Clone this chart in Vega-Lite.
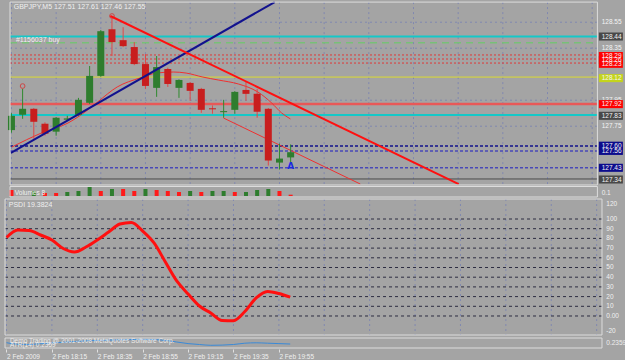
{
  "$schema": "https://vega.github.io/schema/vega-lite/v6.json",
  "background": "#a4a4a4",
  "padding": 0,
  "spacing": 0,
  "bounds": "flush",
  "config": {
    "view": {"stroke": null},
    "text": {"font": "Liberation Sans", "fontSize": 6.5, "color": "#f0f0f0"}
  },
  "datasets": {
    "candles": [
      {"i":0,"o":127.72,"h":127.85,"l":127.70,"c":127.83},
      {"i":1,"o":127.838,"h":128.037,"l":127.807,"c":127.884},
      {"i":2,"o":127.884,"h":127.89,"l":127.654,"c":127.784},
      {"i":3,"o":127.769,"h":127.78,"l":127.677,"c":127.692},
      {"i":4,"o":127.708,"h":127.82,"l":127.677,"c":127.815},
      {"i":5,"o":127.80,"h":127.83,"l":127.79,"c":127.81},
      {"i":6,"o":127.838,"h":127.968,"l":127.83,"c":127.953},
      {"i":7,"o":127.93,"h":128.213,"l":127.92,"c":128.137},
      {"i":8,"o":128.137,"h":128.49,"l":128.13,"c":128.481},
      {"i":9,"o":128.496,"h":128.575,"l":128.29,"c":128.397},
      {"i":10,"o":128.412,"h":128.512,"l":128.359,"c":128.366},
      {"i":11,"o":128.359,"h":128.397,"l":128.22,"c":128.228},
      {"i":12,"o":128.228,"h":128.305,"l":128.037,"c":128.06},
      {"i":13,"o":128.045,"h":128.29,"l":127.976,"c":128.205},
      {"i":14,"o":128.19,"h":128.2,"l":128.052,"c":128.075},
      {"i":15,"o":128.045,"h":128.11,"l":127.968,"c":128.106},
      {"i":16,"o":128.083,"h":128.09,"l":127.945,"c":128.022},
      {"i":17,"o":128.037,"h":128.045,"l":127.853,"c":127.876},
      {"i":18,"o":127.888,"h":127.91,"l":127.846,"c":127.88},
      {"i":19,"o":127.858,"h":127.953,"l":127.815,"c":127.866},
      {"i":20,"o":127.876,"h":128.02,"l":127.846,"c":128.014},
      {"i":21,"o":128.029,"h":128.098,"l":127.945,"c":127.999},
      {"i":22,"o":127.999,"h":128.037,"l":127.815,"c":127.861},
      {"i":23,"o":127.884,"h":127.89,"l":127.447,"c":127.486},
      {"i":24,"o":127.47,"h":127.616,"l":127.417,"c":127.501},
      {"i":25,"o":127.51,"h":127.61,"l":127.46,"c":127.55}
    ],
    "ma": [
      {"i":0.04,"p":127.59},{"i":2.69,"p":127.698},{"i":5.07,"p":127.775},{"i":6.83,"p":127.875},
      {"i":7.71,"p":127.936},{"i":9.47,"p":128.052},{"i":11.5,"p":128.121},{"i":13.0,"p":128.159},
      {"i":14.5,"p":128.167},{"i":15.64,"p":128.159},{"i":17.14,"p":128.128},{"i":18.55,"p":128.105},
      {"i":20.31,"p":128.075},{"i":22.07,"p":128.013},{"i":23.31,"p":127.928},{"i":24.19,"p":127.852},
      {"i":24.98,"p":127.806}
    ],
    "levels": [
      {"p":128.44,"kind":"cyan"},{"p":127.836,"kind":"cyan"},
      {"p":128.392,"kind":"order"},
      {"p":128.298,"kind":"reddot"},{"p":128.267,"kind":"reddot"},{"p":128.236,"kind":"reddot"},
      {"p":128.128,"kind":"yellow"},
      {"p":127.921,"kind":"red"},
      {"p":127.598,"kind":"navy"},
      {"p":127.559,"kind":"blue"},{"p":127.431,"kind":"blue"},
      {"p":127.344,"kind":"gray"}
    ],
    "trends": [
      {"name":"blue","i1":-0.044,"p1":127.544,"i2":23.57,"p2":128.705},
      {"name":"red","i1":8.855,"p1":128.598,"i2":40.05,"p2":127.305},
      {"name":"thin","i1":18.99,"p1":127.813,"i2":31.24,"p2":127.305}
    ],
    "marks": [
      {"i":1,"p":128.059},{"i":9,"p":128.598}
    ],
    "vgrid": [
      {"i":0},{"i":4},{"i":8},{"i":12},{"i":16},{"i":20},{"i":24},{"i":28},
      {"i":32},{"i":36},{"i":40},{"i":44},{"i":48},{"i":52}
    ],
    "pgrid": [{"p":128.55},{"p":128.35},{"p":127.95},{"p":127.75}],
    "plabels": [
      {"p":128.55,"t":"128.55","kind":"plain"},
      {"p":128.35,"t":"128.35","kind":"plain"},
      {"p":127.95,"t":"127.95","kind":"plain"},
      {"p":127.75,"t":"127.75","kind":"plain"},
      {"p":128.44,"t":"128.44","kind":"gray"},
      {"p":128.29,"t":"128.29","kind":"red"},
      {"p":128.23,"t":"128.23","kind":"red"},
      {"p":128.26,"t":"128.26","kind":"red"},
      {"p":128.12,"t":"128.12","kind":"yellow"},
      {"p":127.92,"t":"127.92","kind":"red"},
      {"p":127.83,"t":"127.83","kind":"gray"},
      {"p":127.60,"t":"127.60","kind":"navy"},
      {"p":127.56,"t":"127.56","kind":"navy"},
      {"p":127.43,"t":"127.43","kind":"navy"},
      {"p":127.34,"t":"127.34","kind":"gray"}
    ],
    "volume": [
      {"i":0,"v":6,"dir":"down"},{"i":2,"v":5,"dir":"up"},{"i":3,"v":3,"dir":"down"},
      {"i":4,"v":3,"dir":"down"},{"i":5,"v":4,"dir":"up"},{"i":6,"v":5,"dir":"up"},
      {"i":7,"v":9,"dir":"up"},{"i":8,"v":5,"dir":"down"},{"i":9,"v":7,"dir":"up"},
      {"i":10,"v":7,"dir":"down"},{"i":11,"v":5,"dir":"down"},{"i":12,"v":7,"dir":"up"},
      {"i":13,"v":6,"dir":"down"},{"i":14,"v":5,"dir":"down"},{"i":15,"v":4,"dir":"down"},
      {"i":16,"v":5,"dir":"up"},{"i":17,"v":4,"dir":"down"},{"i":18,"v":5,"dir":"up"},
      {"i":19,"v":5,"dir":"up"},{"i":20,"v":4,"dir":"down"},{"i":21,"v":4,"dir":"up"},
      {"i":22,"v":6,"dir":"up"},{"i":23,"v":7,"dir":"up"},{"i":24,"v":5,"dir":"down"},
      {"i":25,"v":1.3,"dir":"down"}
    ],
    "rsi": [
      {"i":0,"v":80.9},{"i":1,"v":88.7},{"i":2,"v":88.1},{"i":3,"v":83.5},{"i":4,"v":78.4},
      {"i":5,"v":69.6},{"i":6,"v":66.0},{"i":7,"v":71.1},{"i":8,"v":78.4},{"i":9,"v":86.6},
      {"i":10,"v":94.8},{"i":11,"v":96.4},{"i":12,"v":87.6},{"i":13,"v":75.3},{"i":14,"v":55.7},
      {"i":15,"v":36.1},{"i":16,"v":22.7},{"i":17,"v":10.3},{"i":18,"v":3.1},{"i":19,"v":-4.6},
      {"i":20,"v":-4.8},{"i":21,"v":4.6},{"i":22,"v":18.6},{"i":23,"v":25.3},{"i":24,"v":23.2},
      {"i":25,"v":19.4}
    ],
    "rgrid": [{"v":0},{"v":10},{"v":20},{"v":30},{"v":40},{"v":50},{"v":60},{"v":70},{"v":80},{"v":90},{"v":100}],
    "rlabels": [
      {"v":115.5,"t":"120"},{"v":100,"t":"100"},{"v":90,"t":"90"},{"v":80,"t":"80"},{"v":70,"t":"70"},
      {"v":60,"t":"60"},{"v":50,"t":"50"},{"v":40,"t":"40"},{"v":30,"t":"30"},{"v":20,"t":"20"},
      {"v":10,"t":"10"},{"v":0,"t":"0.00"},{"v":-15.5,"t":"-20"}
    ],
    "atr": [
      {"i":0,"v":6.3},{"i":1,"v":4.7},{"i":2,"v":4.5},{"i":3,"v":5.3},{"i":4,"v":6.2},{"i":5,"v":6.7},
      {"i":6,"v":7.5},{"i":7,"v":8.2},{"i":8,"v":8.5},{"i":9,"v":8.9},{"i":10,"v":9.2},{"i":11,"v":9.4},
      {"i":12,"v":9.7},{"i":13,"v":9.4},{"i":14,"v":8.6},{"i":15,"v":7.0},{"i":16,"v":5.4},{"i":17,"v":4.5},
      {"i":18,"v":3.7},{"i":19,"v":3.9},{"i":20,"v":4.5},{"i":21,"v":5.8},{"i":22,"v":6.2},{"i":23,"v":5.8},
      {"i":24,"v":5.4},{"i":25,"v":5.0}
    ],
    "texts": [
      {"panel":"main","t":"GBPJPY,M5  127.51 127.61 127.46 127.55","i":0.2,"v":128.667},
      {"panel":"main","t":"#1156037 buy","i":0.4,"v":128.415},
      {"panel":"vol","t":"Volumes 8","i":0.3,"v":3.5},
      {"panel":"vol","t":"0.1","i":52.85,"v":3.5},
      {"panel":"rsi","t":"PSDI 19.3824","i":0.2,"v":114.4},
      {"panel":"atr","t":"Demo Trading @ 2001-2008 MetaQuotes Software Corp.","i":0.3,"v":8},
      {"panel":"atr","t":"ATR(14) 0.2359","i":0.3,"v":4.5},
      {"panel":"atr","t":"0.2359","i":52.85,"v":6}
    ],
    "frames": [
      {"panel":"main","i1":-0.13,"i2":52.47,"v1":128.705,"v2":127.298},
      {"panel":"vol","i1":-0.13,"i2":52.47,"v1":9.5,"v2":-1},
      {"panel":"rsi","i1":-0.13,"i2":52.47,"v1":120.6,"v2":-19.6},
      {"panel":"atr","i1":-0.13,"i2":52.47,"v1":11,"v2":1}
    ]
  },
  "vconcat": [
    {
      "width": 625,
      "height": 186,
      "resolve": {"scale": {"fill": "independent", "color": "independent"}},
      "layer": [
        {
          "data": {"name": "vgrid"},
          "transform": [{"calculate": "128.705", "as": "y0"}, {"calculate": "127.298", "as": "y1"}],
          "mark": {"type": "rule", "stroke": "#8088b0", "strokeDash": [2, 3], "strokeWidth": 1},
          "encoding": {
            "x": {"field": "i", "type": "quantitative", "scale": {"domain": [-0.22, 54.85], "nice": false, "zero": false}, "axis": null},
            "y": {"field": "y0", "type": "quantitative", "scale": {"domain": [127.29, 128.721], "nice": false, "zero": false}, "axis": null},
            "y2": {"field": "y1"}
          }
        },
        {
          "data": {"name": "pgrid"},
          "transform": [{"calculate": "-0.13", "as": "x0"}, {"calculate": "52.47", "as": "x1"}],
          "mark": {"type": "rule", "stroke": "#8088b0", "strokeDash": [2, 3], "strokeWidth": 1},
          "encoding": {"y": {"field": "p", "type": "quantitative"}, "x": {"field": "x0", "type": "quantitative"}, "x2": {"field": "x1"}}
        },
        {
          "data": {"name": "levels"},
          "transform": [{"filter": "datum.kind == 'cyan'"}, {"calculate": "-0.13", "as": "x0"}, {"calculate": "52.47", "as": "x1"}],
          "mark": {"type": "rule", "stroke": "#14c8c8", "strokeWidth": 2},
          "encoding": {"y": {"field": "p", "type": "quantitative"}, "x": {"field": "x0", "type": "quantitative"}, "x2": {"field": "x1"}}
        },
        {
          "data": {"name": "levels"},
          "transform": [{"filter": "datum.kind == 'order'"}, {"calculate": "-0.13", "as": "x0"}, {"calculate": "52.47", "as": "x1"}],
          "mark": {"type": "rule", "stroke": "#78c078", "strokeWidth": 1.5, "strokeDash": [7, 5]},
          "encoding": {"y": {"field": "p", "type": "quantitative"}, "x": {"field": "x0", "type": "quantitative"}, "x2": {"field": "x1"}}
        },
        {
          "data": {"name": "levels"},
          "transform": [{"filter": "datum.kind == 'reddot'"}, {"calculate": "-0.13", "as": "x0"}, {"calculate": "52.47", "as": "x1"}],
          "mark": {"type": "rule", "stroke": "#e03838", "strokeWidth": 1, "strokeDash": [2, 2]},
          "encoding": {"y": {"field": "p", "type": "quantitative"}, "x": {"field": "x0", "type": "quantitative"}, "x2": {"field": "x1"}}
        },
        {
          "data": {"name": "levels"},
          "transform": [{"filter": "datum.kind == 'yellow'"}, {"calculate": "-0.13", "as": "x0"}, {"calculate": "52.47", "as": "x1"}],
          "mark": {"type": "rule", "stroke": "#dcdc30", "strokeWidth": 1},
          "encoding": {"y": {"field": "p", "type": "quantitative"}, "x": {"field": "x0", "type": "quantitative"}, "x2": {"field": "x1"}}
        },
        {
          "data": {"name": "levels"},
          "transform": [{"filter": "datum.kind == 'red'"}, {"calculate": "-0.13", "as": "x0"}, {"calculate": "52.47", "as": "x1"}],
          "mark": {"type": "rule", "stroke": "#e85858", "strokeWidth": 2.5},
          "encoding": {"y": {"field": "p", "type": "quantitative"}, "x": {"field": "x0", "type": "quantitative"}, "x2": {"field": "x1"}}
        },
        {
          "data": {"name": "levels"},
          "transform": [{"filter": "datum.kind == 'navy'"}, {"calculate": "-0.13", "as": "x0"}, {"calculate": "52.47", "as": "x1"}],
          "mark": {"type": "rule", "stroke": "#10108c", "strokeWidth": 1.5, "strokeDash": [3, 2]},
          "encoding": {"y": {"field": "p", "type": "quantitative"}, "x": {"field": "x0", "type": "quantitative"}, "x2": {"field": "x1"}}
        },
        {
          "data": {"name": "levels"},
          "transform": [{"filter": "datum.kind == 'blue'"}, {"calculate": "-0.13", "as": "x0"}, {"calculate": "52.47", "as": "x1"}],
          "mark": {"type": "rule", "stroke": "#4848b8", "strokeWidth": 1.5, "strokeDash": [3, 2]},
          "encoding": {"y": {"field": "p", "type": "quantitative"}, "x": {"field": "x0", "type": "quantitative"}, "x2": {"field": "x1"}}
        },
        {
          "data": {"name": "levels"},
          "transform": [{"filter": "datum.kind == 'gray'"}, {"calculate": "-0.13", "as": "x0"}, {"calculate": "52.47", "as": "x1"}],
          "mark": {"type": "rule", "stroke": "#4a4a4a", "strokeWidth": 1},
          "encoding": {"y": {"field": "p", "type": "quantitative"}, "x": {"field": "x0", "type": "quantitative"}, "x2": {"field": "x1"}}
        },
        {
          "data": {"name": "ma"},
          "mark": {"type": "line", "stroke": "#f03030", "strokeWidth": 1, "interpolate": "monotone"},
          "encoding": {"x": {"field": "i", "type": "quantitative"}, "y": {"field": "p", "type": "quantitative"}}
        },
        {
          "data": {"name": "trends"},
          "transform": [{"filter": "datum.name == 'thin'"}],
          "mark": {"type": "rule", "stroke": "#f03030", "strokeWidth": 1},
          "encoding": {
            "x": {"field": "i1", "type": "quantitative"}, "x2": {"field": "i2"},
            "y": {"field": "p1", "type": "quantitative"}, "y2": {"field": "p2"}
          }
        },
        {
          "data": {"name": "candles"},
          "transform": [{"calculate": "datum.c >= datum.o ? 'up' : 'down'", "as": "dir"}],
          "mark": {"type": "rule", "strokeWidth": 1},
          "encoding": {
            "x": {"field": "i", "type": "quantitative"},
            "y": {"field": "l", "type": "quantitative"}, "y2": {"field": "h"},
            "color": {"field": "dir", "type": "nominal", "scale": {"domain": ["up", "down"], "range": ["#2f8a2f", "#e04848"]}, "legend": null}
          }
        },
        {
          "data": {"name": "candles"},
          "transform": [{"calculate": "datum.c >= datum.o ? 'up' : 'down'", "as": "dir"}],
          "mark": {"type": "bar", "size": 7, "orient": "vertical"},
          "encoding": {
            "x": {"field": "i", "type": "quantitative"},
            "y": {"field": "o", "type": "quantitative"}, "y2": {"field": "c"},
            "fill": {"field": "dir", "type": "nominal", "scale": {"domain": ["up", "down"], "range": ["#2e7d2e", "#c81e1e"]}, "legend": null}
          }
        },
        {
          "data": {"name": "trends"},
          "transform": [{"filter": "datum.name == 'blue'"}],
          "mark": {"type": "rule", "stroke": "#12128e", "strokeWidth": 2},
          "encoding": {
            "x": {"field": "i1", "type": "quantitative"}, "x2": {"field": "i2"},
            "y": {"field": "p1", "type": "quantitative"}, "y2": {"field": "p2"}
          }
        },
        {
          "data": {"name": "trends"},
          "transform": [{"filter": "datum.name == 'red'"}],
          "mark": {"type": "rule", "stroke": "#ff1010", "strokeWidth": 2},
          "encoding": {
            "x": {"field": "i1", "type": "quantitative"}, "x2": {"field": "i2"},
            "y": {"field": "p1", "type": "quantitative"}, "y2": {"field": "p2"}
          }
        },
        {
          "data": {"name": "marks"},
          "mark": {"type": "point", "shape": "circle", "filled": false, "stroke": "#e02020", "strokeWidth": 1, "size": 22},
          "encoding": {"x": {"field": "i", "type": "quantitative"}, "y": {"field": "p", "type": "quantitative"}}
        },
        {
          "data": {"values": [{"t": "A", "i": 25, "p": 127.444}]},
          "mark": {"type": "text", "fontSize": 9, "fontWeight": "bold", "color": "#1a2ae0", "font": "DejaVu Sans"},
          "encoding": {"x": {"field": "i", "type": "quantitative"}, "y": {"field": "p", "type": "quantitative"}, "text": {"field": "t"}}
        },
        {
          "data": {"name": "texts"},
          "transform": [{"filter": "datum.panel == 'main'"}],
          "mark": {"type": "text", "align": "left", "baseline": "middle", "fontSize": 7},
          "encoding": {"x": {"field": "i", "type": "quantitative"}, "y": {"field": "v", "type": "quantitative"}, "text": {"field": "t"}}
        },
        {
          "data": {"name": "plabels"},
          "transform": [{"filter": "datum.kind == 'plain'"}, {"calculate": "52.85", "as": "xl"}],
          "mark": {"type": "text", "align": "left", "baseline": "middle", "color": "#f4f4f4"},
          "encoding": {"x": {"field": "xl", "type": "quantitative"}, "y": {"field": "p", "type": "quantitative"}, "text": {"field": "t"}}
        },
        {
          "data": {"name": "plabels"},
          "transform": [
            {"filter": "datum.kind != 'plain'"},
            {"calculate": "datum.p + 0.031", "as": "top"},
            {"calculate": "datum.p - 0.031", "as": "bot"},
            {"calculate": "52.6", "as": "x0"},
            {"calculate": "54.75", "as": "x1"}
          ],
          "mark": {"type": "rect"},
          "encoding": {
            "x": {"field": "x0", "type": "quantitative"}, "x2": {"field": "x1"},
            "y": {"field": "top", "type": "quantitative"}, "y2": {"field": "bot"},
            "fill": {"field": "kind", "type": "nominal", "scale": {"domain": ["gray", "red", "yellow", "navy"], "range": ["#484848", "#ff0000", "#c4d41c", "#0c0c8c"]}, "legend": null}
          }
        },
        {
          "data": {"name": "plabels"},
          "transform": [{"filter": "datum.kind != 'plain'"}, {"calculate": "52.85", "as": "xl"}],
          "mark": {"type": "text", "align": "left", "baseline": "middle", "color": "#f4f4f4"},
          "encoding": {"x": {"field": "xl", "type": "quantitative"}, "y": {"field": "p", "type": "quantitative"}, "text": {"field": "t"}}
        },
        {
          "data": {"name": "frames"},
          "transform": [{"filter": "datum.panel == 'main'"}],
          "mark": {"type": "rect", "fillOpacity": 0, "stroke": "#dcdcdc", "strokeWidth": 1},
          "encoding": {"x": {"field": "i1", "type": "quantitative"}, "x2": {"field": "i2"}, "y": {"field": "v1", "type": "quantitative"}, "y2": {"field": "v2"}}
        }
      ]
    },
    {
      "width": 625,
      "height": 12,
      "layer": [
        {
          "data": {"name": "volume"},
          "transform": [{"calculate": "0", "as": "base"}],
          "mark": {"type": "bar", "size": 4, "orient": "vertical"},
          "encoding": {
            "x": {"field": "i", "type": "quantitative", "scale": {"domain": [-0.22, 54.85], "nice": false, "zero": false}, "axis": null},
            "y": {"field": "base", "type": "quantitative", "scale": {"domain": [-2, 10], "nice": false, "zero": false}, "axis": null},
            "y2": {"field": "v"},
            "fill": {"field": "dir", "type": "nominal", "scale": {"domain": ["up", "down"], "range": ["#2e7d2e", "#ff1a1a"]}, "legend": null}
          }
        },
        {
          "data": {"name": "texts"},
          "transform": [{"filter": "datum.panel == 'vol'"}],
          "mark": {"type": "text", "align": "left", "baseline": "middle"},
          "encoding": {"x": {"field": "i", "type": "quantitative"}, "y": {"field": "v", "type": "quantitative"}, "text": {"field": "t"}}
        },
        {
          "data": {"name": "frames"},
          "transform": [{"filter": "datum.panel == 'vol'"}],
          "mark": {"type": "rect", "fillOpacity": 0, "stroke": "#dcdcdc", "strokeWidth": 1},
          "encoding": {"x": {"field": "i1", "type": "quantitative"}, "x2": {"field": "i2"}, "y": {"field": "v1", "type": "quantitative"}, "y2": {"field": "v2"}}
        }
      ]
    },
    {
      "width": 625,
      "height": 138,
      "layer": [
        {
          "data": {"name": "vgrid"},
          "transform": [{"calculate": "120.6", "as": "y0"}, {"calculate": "-19.6", "as": "y1"}],
          "mark": {"type": "rule", "stroke": "#8088b0", "strokeDash": [2, 3], "strokeWidth": 1},
          "encoding": {
            "x": {"field": "i", "type": "quantitative", "scale": {"domain": [-0.22, 54.85], "nice": false, "zero": false}, "axis": null},
            "y": {"field": "y0", "type": "quantitative", "scale": {"domain": [-20.62, 121.65], "nice": false, "zero": false}, "axis": null},
            "y2": {"field": "y1"}
          }
        },
        {
          "data": {"name": "rgrid"},
          "transform": [{"calculate": "-0.13", "as": "x0"}, {"calculate": "52.47", "as": "x1"}],
          "mark": {"type": "rule", "stroke": "#2c2c40", "strokeDash": [3, 3], "strokeWidth": 1},
          "encoding": {"y": {"field": "v", "type": "quantitative"}, "x": {"field": "x0", "type": "quantitative"}, "x2": {"field": "x1"}}
        },
        {
          "data": {"name": "rsi"},
          "mark": {"type": "line", "stroke": "#ff1010", "strokeWidth": 3, "interpolate": "monotone"},
          "encoding": {"x": {"field": "i", "type": "quantitative"}, "y": {"field": "v", "type": "quantitative"}}
        },
        {
          "data": {"name": "texts"},
          "transform": [{"filter": "datum.panel == 'rsi'"}],
          "mark": {"type": "text", "align": "left", "baseline": "middle", "fontSize": 7},
          "encoding": {"x": {"field": "i", "type": "quantitative"}, "y": {"field": "v", "type": "quantitative"}, "text": {"field": "t"}}
        },
        {
          "data": {"name": "rlabels"},
          "transform": [{"calculate": "52.85", "as": "xl"}],
          "mark": {"type": "text", "align": "left", "baseline": "middle"},
          "encoding": {"x": {"field": "xl", "type": "quantitative"}, "y": {"field": "v", "type": "quantitative"}, "text": {"field": "t"}}
        },
        {
          "data": {"name": "frames"},
          "transform": [{"filter": "datum.panel == 'rsi'"}],
          "mark": {"type": "rect", "fillOpacity": 0, "stroke": "#dcdcdc", "strokeWidth": 1},
          "encoding": {"x": {"field": "i1", "type": "quantitative"}, "x2": {"field": "i2"}, "y": {"field": "v1", "type": "quantitative"}, "y2": {"field": "v2"}}
        }
      ]
    },
    {
      "width": 625,
      "height": 13,
      "layer": [
        {
          "data": {"name": "atr"},
          "mark": {"type": "line", "stroke": "#3a8ad8", "strokeWidth": 1, "interpolate": "monotone"},
          "encoding": {
            "x": {
              "field": "i", "type": "quantitative",
              "scale": {"domain": [-0.22, 54.85], "nice": false, "zero": false},
              "axis": {
                "orient": "bottom",
                "values": [0, 4, 8, 12, 16, 20, 24],
                "labelExpr": "datum.value == 0 ? '2 Feb 2009' : '2 Feb ' + floor((1075 + 5 * datum.value) / 60) + ':' + format((1075 + 5 * datum.value) % 60, '02d')",
                "labelAlign": "left",
                "labelFont": "Liberation Sans",
                "labelFontSize": 6.5,
                "labelColor": "#f0f0f0",
                "labelPadding": 1,
                "labelFlush": false,
                "labelOverlap": false,
                "domain": false,
                "grid": false,
                "ticks": true,
                "tickSize": 3,
                "tickColor": "#e0e0e0",
                "title": null
              }
            },
            "y": {"field": "v", "type": "quantitative", "scale": {"domain": [0, 13], "nice": false, "zero": false}, "axis": null}
          }
        },
        {
          "data": {"name": "texts"},
          "transform": [{"filter": "datum.panel == 'atr'"}],
          "mark": {"type": "text", "align": "left", "baseline": "middle", "color": "#eeeeee"},
          "encoding": {"x": {"field": "i", "type": "quantitative"}, "y": {"field": "v", "type": "quantitative"}, "text": {"field": "t"}}
        },
        {
          "data": {"name": "frames"},
          "transform": [{"filter": "datum.panel == 'atr'"}],
          "mark": {"type": "rect", "fillOpacity": 0, "stroke": "#dcdcdc", "strokeWidth": 1},
          "encoding": {"x": {"field": "i1", "type": "quantitative"}, "x2": {"field": "i2"}, "y": {"field": "v1", "type": "quantitative"}, "y2": {"field": "v2"}}
        }
      ]
    }
  ]
}
